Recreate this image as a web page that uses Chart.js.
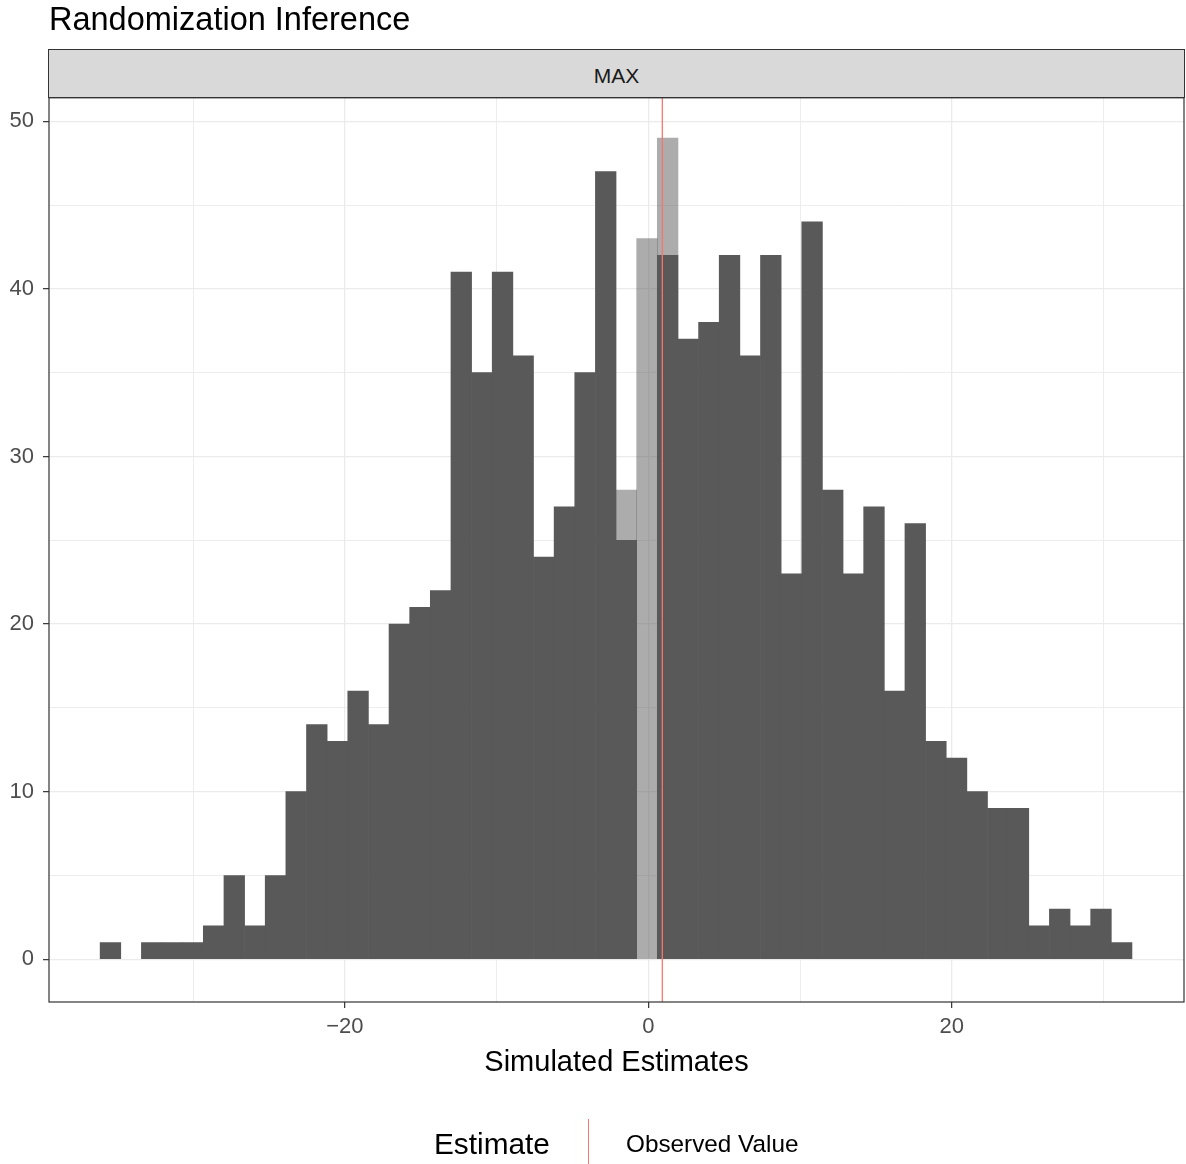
<!DOCTYPE html>
<html>
<head>
<meta charset="utf-8">
<script src="https://cdn.jsdelivr.net/npm/chart.js@4"></script>
<style>
  html, body { margin: 0; padding: 0; background: #ffffff; }
  #wrap { position: relative; width: 1186px; height: 1164px; font-family: 'Liberation Sans', Arial, sans-serif; }
  #strip { position: absolute; box-sizing: border-box; background: #D9D9D9; border: 1.2px solid #333333;
           color: #1A1A1A; font-size: 21px; display: flex; align-items: center; justify-content: center;
           padding-top: 5px; }
  .leg { position: absolute; white-space: nowrap; line-height: 1; }
</style>
</head>
<body>
<div id="wrap">
  <canvas id="c" width="1186" height="1164"></canvas>
  <div id="strip">MAX</div>
  <div class="leg" id="legTitle" style="left:434px; top:1129px; font-size:29.8px; color:#000;">Estimate</div>
  <div class="leg" id="legKey" style="left:588px; top:1119px; width:1.3px; height:45px; background:#F8766D;"></div>
  <div class="leg" id="legText" style="left:626px; top:1132px; font-size:24.3px; color:#000;">Observed Value</div>
</div>
<script>
// ---- data ----
const binStart = -36.13;          // left edge of first histogram bin
const binWidth = 1.36;            // histogram bin width
const simulatedCounts = [1, 0, 1, 1, 1, 2, 5, 2, 5, 10,
                         14, 13, 16, 14, 20, 21, 22, 41, 35, 41,
                         36, 24, 27, 35, 47, 25, 0, 42, 37, 38,
                         42, 36, 42, 23, 44, 28, 23, 27, 16, 26,
                         13, 12, 10, 9, 9, 2, 3, 2, 3, 1];
const highlightCounts = [null, null, null, null, null, null, null, null, null, null,
                         null, null, null, null, null, null, null, null, null, null,
                         null, null, null, null, null, 28, 43, 49, null, null,
                         null, null, null, null, null, null, null, null, null, null,
                         null, null, null, null, null, null, null, null, null, null];
const observedValue = 0.92;
const xTickLabels = [-20, 0, 20];
const yTickLabels = [0, 10, 20, 30, 40, 50];
const chartTitle = 'Randomization Inference';
const xAxisTitle = 'Simulated Estimates';
const facetLabel = 'MAX';
const legendTitle = 'Estimate';
const legendLabel = 'Observed Value';

// ---- build datasets ----
const binCenters = simulatedCounts.map((_, i) => binStart + binWidth * (i + 0.5));
const darkData = simulatedCounts.map((c, i) => ({ x: binCenters[i], y: c > 0 ? c : null }));
const lightData = highlightCounts.map((c, i) => ({ x: binCenters[i], y: c }));

document.getElementById('strip').textContent = facetLabel;
document.getElementById('legTitle').textContent = legendTitle;
document.getElementById('legText').textContent = legendLabel;

Chart.defaults.font.family = "'Liberation Sans', Arial, sans-serif";
Chart.defaults.color = '#4D4D4D';

const minus = v => String(v).replace('-', '\u2212');

const panelBorder = {
  id: 'panelBorder',
  afterDraw(chart) {
    const { ctx, chartArea: a } = chart;
    ctx.save();
    ctx.strokeStyle = '#333333';
    ctx.lineWidth = 1.2;
    ctx.strokeRect(a.left, a.top, a.right - a.left, a.bottom - a.top);
    ctx.restore();
  }
};

const chart = new Chart(document.getElementById('c'), {
  type: 'bar',
  data: {
    datasets: [
      {
        label: 'simulated',
        data: darkData,
        backgroundColor: '#595959',
        borderWidth: 0,
        barPercentage: 1,
        categoryPercentage: 1,
        grouped: false,
        order: 1
      },
      {
        label: 'highlight',
        data: lightData,
        backgroundColor: 'rgba(89,89,89,0.5)',
        borderWidth: 0,
        barPercentage: 1,
        categoryPercentage: 1,
        grouped: false,
        order: 2
      },
      {
        type: 'line',
        label: legendLabel,
        data: [{ x: observedValue, y: -10 }, { x: observedValue, y: 100 }],
        borderColor: '#F8766D',
        borderWidth: 1.3,
        pointRadius: 0,
        fill: false,
        order: 0
      }
    ]
  },
  options: {
    responsive: false,
    animation: false,
    layout: { padding: { left: 0, right: 2, top: 0, bottom: 82 } },
    plugins: {
      legend: { display: false },
      tooltip: { enabled: false },
      title: {
        display: true,
        text: chartTitle,
        align: 'start',
        fullSize: false,
        color: '#000000',
        font: { size: 32.5, weight: 'normal' },
        padding: { top: 2, bottom: 56.8 }
      }
    },
    scales: {
      x: {
        type: 'linear',
        min: -39.5,
        max: 35.3,
        offset: false,
        border: { display: false },
        grid: {
          offset: false,
          color: ctx => (ctx.tick && ctx.tick.value % 10 === 0 ? '#EBEBEB' : 'rgba(0,0,0,0)'),
          lineWidth: ctx => (ctx.tick && ctx.tick.value % 20 === 0 ? 1.3 : 0.9),
          tickColor: ctx => (ctx.tick && xTickLabels.includes(ctx.tick.value) ? '#333333' : 'rgba(0,0,0,0)'),
          tickLength: 6,
          tickWidth: 1.2
        },
        ticks: {
          stepSize: 10,
          includeBounds: false,
          autoSkip: false,
          maxRotation: 0,
          padding: 6,
          color: '#4D4D4D',
          font: { size: 22 },
          callback: v => (xTickLabels.includes(v) ? minus(v) : '')
        },
        title: {
          display: true,
          text: xAxisTitle,
          color: '#000000',
          font: { size: 29 },
          padding: { top: 0, bottom: 2 }
        },
        afterFit: s => { s.height = 80; }
      },
      y: {
        type: 'linear',
        min: -2.55,
        max: 51.4,
        border: { display: false },
        grid: {
          offset: false,
          color: ctx => (ctx.tick && ctx.tick.value % 5 === 0 ? '#EBEBEB' : 'rgba(0,0,0,0)'),
          lineWidth: ctx => (ctx.tick && ctx.tick.value % 10 === 0 ? 1.3 : 0.9),
          tickColor: ctx => (ctx.tick && yTickLabels.includes(ctx.tick.value) ? '#333333' : 'rgba(0,0,0,0)'),
          tickLength: 6,
          tickWidth: 1.2
        },
        ticks: {
          stepSize: 5,
          includeBounds: false,
          autoSkip: false,
          padding: 9,
          color: '#4D4D4D',
          font: { size: 22 },
          callback: v => (yTickLabels.includes(v) ? minus(v) : '')
        },
        afterFit: s => { s.width = 49; }
      }
    }
  },
  plugins: [panelBorder]
});

// place the facet strip directly above the panel
const a = chart.chartArea;
const strip = document.getElementById('strip');
strip.style.left = (a.left - 0.6) + 'px';
strip.style.top = (a.top - 49) + 'px';
strip.style.width = (a.right - a.left + 1.2) + 'px';
strip.style.height = '49.6px';
</script>
</body>
</html>
